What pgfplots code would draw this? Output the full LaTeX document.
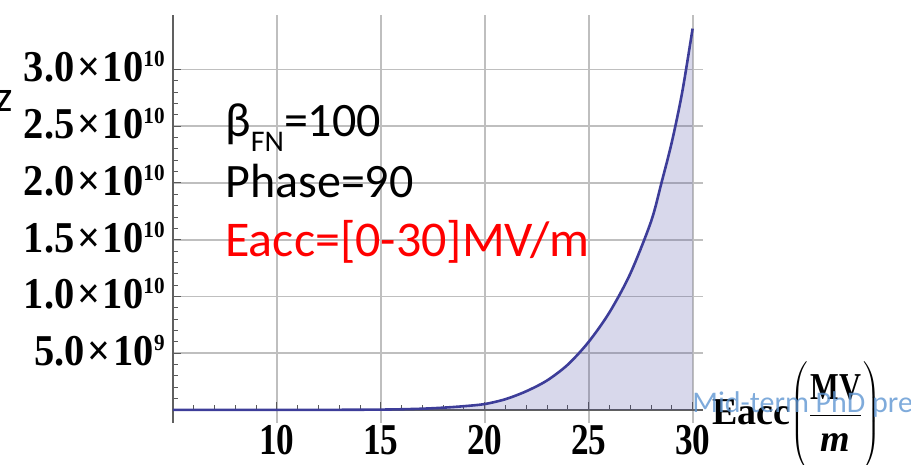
\RequirePackage{fix-cm}
\documentclass[border=0pt]{standalone}
\usepackage{fontspec}
\setmainfont{Liberation Serif}
\newfontfamily\calibri{Carlito}
\usepackage{graphicx}
\usepackage{pgfplots}
\pgfplotsset{compat=1.18}
\usepackage{pgfplotstable}
\usetikzlibrary{calc}

\definecolor{curveblue}{RGB}{61,61,153}
\definecolor{wmblue}{RGB}{95,150,210}

% emission curve
\pgfplotstableread{
E    J
5    0
8    0
10   0.001e9
12   0.005e9
14   0.02e9
15   0.03e9
16   0.06e9
17   0.11e9
18   0.2e9
19   0.33e9
20   0.52e9
21   0.95e9
22   1.65e9
23   2.6e9
24   4.0e9
25   6.0e9
26   8.6e9
27   12.0e9
28   16.6e9
28.5 20.0e9
29   23.6e9
29.5 28.0e9
30   33.6e9
}\jdata

\newcommand\sci[2]{\scalebox{0.92}[1]{#1\hspace{1.5pt}×\hspace{1.5pt}10\raisebox{7.5pt}{\fontsize{11.5}{11.5}\selectfont #2}}}
\newcommand\xl[1]{\scalebox{0.8}[1]{#1}}

\begin{document}
\begin{tikzpicture}
\begin{axis}[
  scale only axis, width=265pt, height=204pt,
  xmin=5, xmax=30.5, ymin=-1.15e9, ymax=3.48e10,
  axis y line=left, axis x line=middle,
  axis line style={-, gray!75!black, line width=0.7pt},
  scaled y ticks=false,
  xtick={5,10,...,30}, xticklabels={,\xl{10},\xl{15},\xl{20},\xl{25},\xl{30}},
  ytick={0,5e9,1e10,1.5e10,2e10,2.5e10,3e10},
  yticklabels={,\sci{5.0}{9},\sci{1.0}{10},\sci{1.5}{10},\sci{2.0}{10},\sci{2.5}{10},\sci{3.0}{10}},
  minor x tick num=4, minor y tick num=4,
  tick align=inside, major tick length=4pt, minor tick length=2.5pt,
  tick style={gray!70!black, line width=0.5pt},
  grid=major, major grid style={gray!50, line width=0.9pt},
  ticklabel style={font=\fontsize{22}{24}\selectfont\bfseries},
  xticklabel style={anchor=base, inner sep=0pt, yshift=-22.5pt},
  yticklabel style={anchor=base east, inner sep=0pt, xshift=-4pt, yshift=-6.25pt},
]
\addplot[draw=none, fill=curveblue, fill opacity=0.2, forget plot] table[x=E, y=J] {\jdata} \closedcycle;
\addplot[curveblue, line width=1.3pt, smooth, mark=none] table[x=E, y=J] {\jdata};
\coordinate (O) at (rel axis cs:0,0);
\end{axis}
\begin{scope}[shift={(O)}]
\node[anchor=base west, inner sep=0pt, font=\calibri\fontsize{24}{26}\selectfont] at (26pt,143pt)
  {β\raisebox{-7.5pt}{\fontsize{15}{15}\selectfont FN}=100};
\node[anchor=base west, inner sep=0pt, font=\calibri\fontsize{24}{26}\selectfont] at (26pt,112.5pt) {Phase=90};
\node[anchor=base west, inner sep=0pt, text=red, font=\calibri\fontsize{25}{27}\selectfont] at (26pt,83pt) {Eacc=[0-30]MV/m};
\node[anchor=base east, inner sep=0pt, font=\calibri\fontsize{22}{24}\selectfont] at (-80pt,155.5pt) {z};
\node[anchor=base west, inner sep=0pt, font=\fontsize{19}{20}\selectfont\bfseries] at (269.5pt,-1pt)
  {Eacc$\left(\rule[-24pt]{0pt}{56pt}\displaystyle\frac{\mbox{\scalebox{0.8}[1]{MV}}}{\mbox{\itshape m}}\right)$};
\node[anchor=base west, inner sep=0pt, text=wmblue, text opacity=0.8, font=\calibri\fontsize{15}{17}\selectfont] at (259.5pt,5pt) {Mid-term PhD presentation};
\end{scope}
\pgfresetboundingbox
\path[use as bounding box] ($(O)+(-86.5pt,-21pt)$) rectangle ($(O)+(369pt,211.5pt)$);
\end{tikzpicture}
\end{document}
